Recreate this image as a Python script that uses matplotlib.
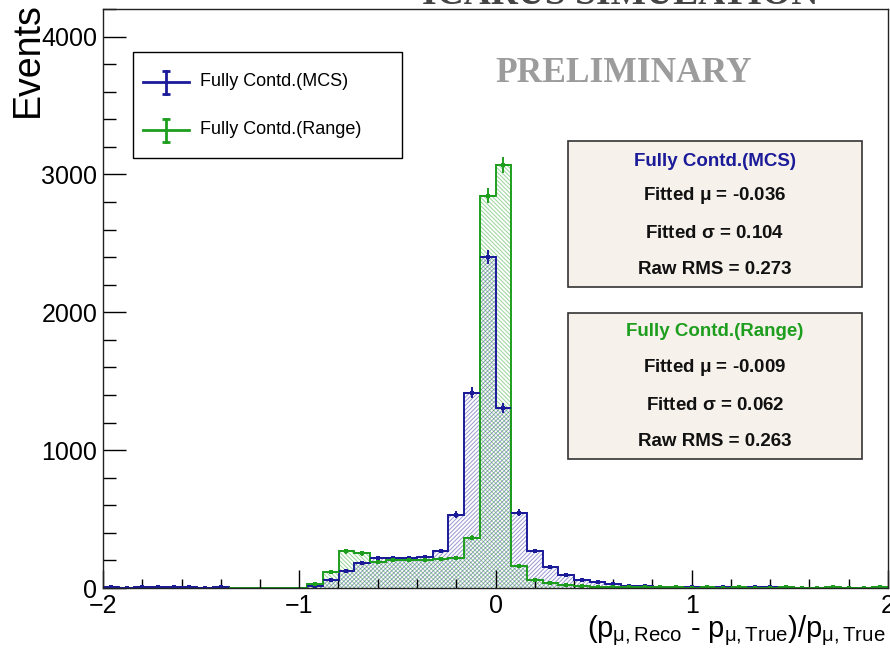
import numpy as np
import matplotlib
matplotlib.use("Agg")
import matplotlib.pyplot as plt
from matplotlib.patches import Rectangle
from matplotlib.lines import Line2D

plt.rcParams["font.family"] = ["Liberation Sans", "DejaVu Sans"]
plt.rcParams["mathtext.fontset"] = "custom"
plt.rcParams["mathtext.rm"] = "Liberation Sans"
plt.rcParams["mathtext.it"] = "Liberation Sans"
plt.rcParams["mathtext.bf"] = "Liberation Sans:bold"
plt.rcParams["hatch.linewidth"] = 0.7

# ---- data: 50 bins of width 0.08 between -2 and 2 ----
bin_edges = np.linspace(-2.0, 2.0, 51)

mcs_counts = [4, 3, 6, 4, 5, 7, 3, 4, 0, 0,
              0, 0, 0, 18, 55, 125, 180, 218, 215, 220,
              227, 268, 532, 1418, 2400, 1308, 547, 268, 152, 94,
              58, 44, 30, 18, 12, 8, 5, 4, 3, 4,
              3, 5, 4, 6, 0, 0, 0, 0, 0, 0]

range_counts = [0, 0, 0, 0, 0, 0, 0, 0, 0, 0,
                0, 0, 0, 32, 118, 265, 251, 191, 203, 203,
                205, 210, 216, 365, 2845, 3068, 158, 60, 34, 22,
                14, 10, 8, 6, 5, 4, 4, 3, 4, 3,
                4, 3, 3, 4, 3, 3, 4, 3, 3, 4]

series_labels = ["Fully Contd.(MCS)", "Fully Contd.(Range)"]
stat_lines = {
    "Fully Contd.(MCS)": ["Fitted $\\mathbf{\\mu}$ = -0.036",
                          "Fitted $\\mathbf{\\sigma}$ = 0.104",
                          "Raw RMS = 0.273"],
    "Fully Contd.(Range)": ["Fitted $\\mathbf{\\mu}$ = -0.009",
                            "Fitted $\\mathbf{\\sigma}$ = 0.062",
                            "Raw RMS = 0.263"],
}

BLUE = "#1b1b9a"
GREEN = "#1e9e1e"
W, H = 890, 657


def fx(x):
    return x / W


def fy(y):
    return 1 - y / H


fig = plt.figure(figsize=(W / 100, H / 100), dpi=100)
ax = fig.add_axes([fx(103), fy(588), fx(888) - fx(103), fy(9) - fy(588)])

centers = 0.5 * (bin_edges[:-1] + bin_edges[1:])
half_w = 0.5 * np.diff(bin_edges)

series = [(mcs_counts, BLUE, "////////"), (range_counts, GREEN, "\\\\\\\\\\\\\\\\")]

# hatched fills
for counts, col, hatch in series:
    rgba = matplotlib.colors.to_rgba(col, 0.45)
    ax.stairs(counts, bin_edges, fill=True, facecolor="none",
              edgecolor=rgba, hatch=hatch, linewidth=0, baseline=0)

# histogram outlines
for counts, col, hatch in series:
    ax.stairs(counts, bin_edges, fill=False, color=col, linewidth=1.4, baseline=0)

# error bars (Poisson) on non-empty bins
for counts, col, hatch in series:
    c = np.asarray(counts, dtype=float)
    m = c > 0
    ax.errorbar(centers[m], c[m], xerr=half_w[m], yerr=np.sqrt(c[m]),
                fmt="s", ms=3.4, color=col, ecolor=col, elinewidth=1.4,
                capsize=2.2, capthick=1.4, markeredgewidth=0)

ax.set_xlim(-2, 2)
ax.set_ylim(0, 4200)
ax.set_xticks([-2, -1, 0, 1, 2])
ax.set_xticks(np.arange(-2, 2.001, 0.2), minor=True)
ax.set_yticks([0, 1000, 2000, 3000, 4000])
ax.set_yticks(np.arange(0, 4201, 200), minor=True)
ax.tick_params(axis="x", which="major", direction="in", length=13, width=1,
               labelsize=18, pad=4, top=False)
ax.tick_params(axis="x", which="minor", direction="in", length=6.5, width=1, top=False)
ax.tick_params(axis="y", which="major", direction="in", length=16.5, width=1,
               labelsize=18, pad=4, right=False)
ax.tick_params(axis="y", which="minor", direction="in", length=9, width=1, right=False)
for sp in ax.spines.values():
    sp.set_linewidth(1.0)
    sp.set_color("#222222")

# legend box with error-bar crosses
fig.patches.append(Rectangle((fx(133), fy(158)), fx(402) - fx(133), fy(52) - fy(158),
                             transform=fig.transFigure, facecolor="white",
                             edgecolor="black", linewidth=1.0, zorder=5))
for yc, col, label in [(82, BLUE, series_labels[0]), (130, GREEN, series_labels[1])]:
    fig.add_artist(Line2D([fx(143), fx(189)], [fy(yc), fy(yc)], color=col,
                          linewidth=2.0, transform=fig.transFigure, zorder=6))
    fig.add_artist(Line2D([fx(166), fx(166)], [fy(yc - 11.5), fy(yc + 11.5)], color=col,
                          linewidth=2.0, marker="_", markersize=6, markeredgewidth=2.0,
                          transform=fig.transFigure, zorder=6))
    fig.text(fx(200), fy(yc), label, ha="left", va="center", fontsize=13, zorder=6)

# axis titles
fig.text(fx(28), fy(2), "Events", rotation=90, ha="center", va="top", fontsize=27)
fig.text(fx(886), fy(637),
         "$(p_{\\mu,\\mathrm{Reco}}$ - $p_{\\mu,\\mathrm{True}})/p_{\\mu,\\mathrm{True}}$",
         ha="right", va="baseline", fontsize=21)

# header texts
fig.text(fx(620), fy(4), "ICARUS SIMULATION", ha="center", va="baseline",
         fontsize=27, fontweight="bold", family="Liberation Serif", color="#444444")
fig.text(fx(624), fy(82), "PRELIMINARY", ha="center", va="baseline",
         fontsize=25.5, fontweight="bold", family="Liberation Serif", color="#9c9c9c")

# statistics boxes
boxes = [(141, 287, [162, 196, 233, 270], BLUE, series_labels[0]),
         (313, 459, [332, 368, 405, 442], GREEN, series_labels[1])]
for top, bot, ys, col, name in boxes:
    fig.patches.append(Rectangle((fx(568), fy(bot)), fx(862) - fx(568), fy(top) - fy(bot),
                                 transform=fig.transFigure, facecolor="#f6f1ea",
                                 edgecolor="#333333", linewidth=1.2, zorder=5))
    fig.text(fx(715), fy(ys[0]), name, ha="center", va="center", fontsize=13.5,
             fontweight="bold", color=col, zorder=6)
    for yy, line in zip(ys[1:], stat_lines[name]):
        fig.text(fx(715), fy(yy), line, ha="center", va="center", fontsize=13.5,
                 fontweight="bold", color="#111111", zorder=6)

fig.savefig("out.png", dpi=100)
